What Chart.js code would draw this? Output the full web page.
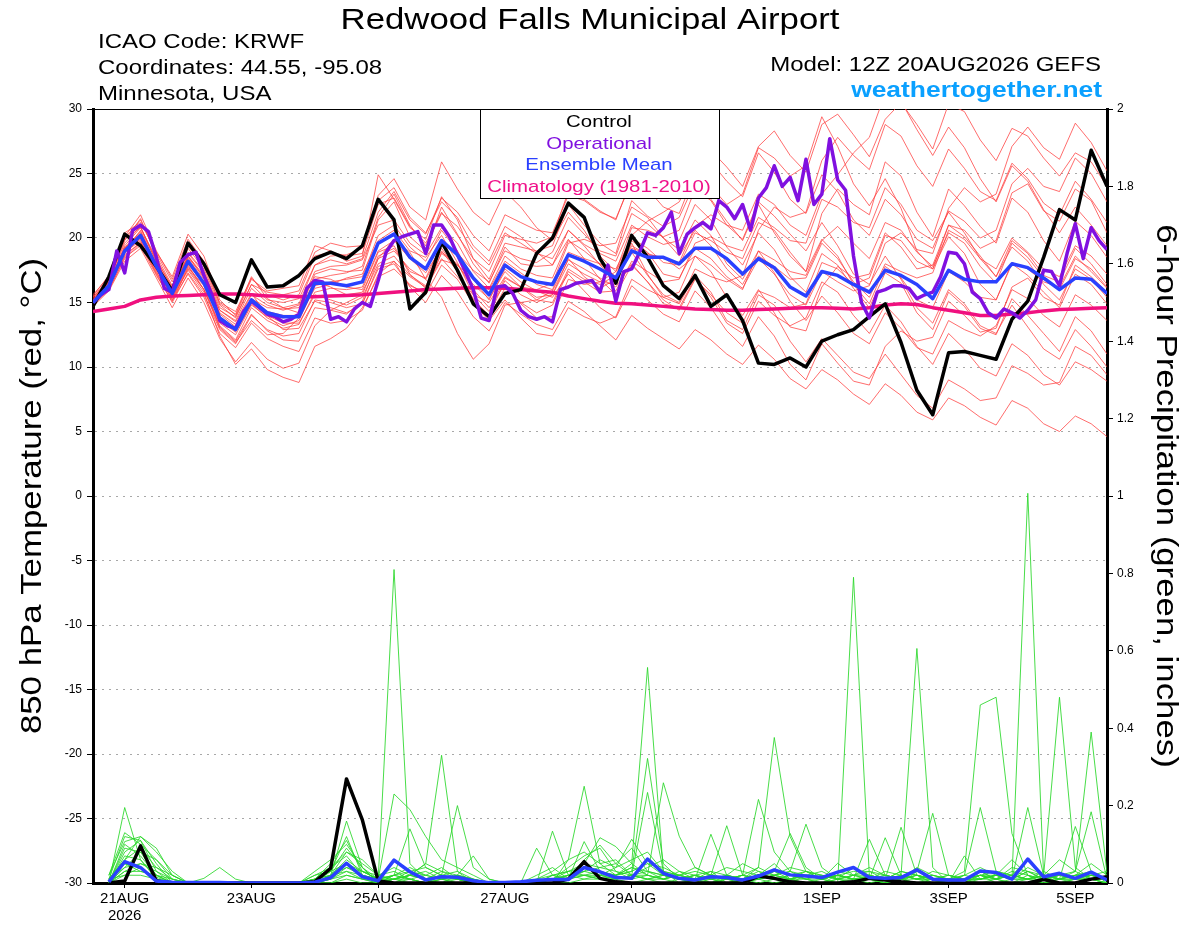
<!DOCTYPE html>
<html>
<head>
<meta charset="utf-8">
<title>Redwood Falls Municipal Airport - GEFS plume</title>
<script src="https://cdn.jsdelivr.net/npm/chart.js@4.4.1/dist/chart.umd.min.js"></script>
<style>
  html, body { margin: 0; padding: 0; background: #fff; }
  canvas { display: block; }
</style>
</head>
<body>
<canvas id="plume" width="1200" height="927" style="width:1200px;height:927px"></canvas>
<script>
const FONT = '"Liberation Sans", Arial, Helvetica, sans-serif';
const STRETCH = 1.2; // the original lettering is wider than Arial

// ---- text ----
const titleText = 'Redwood Falls Municipal Airport';
const infoLines = ['ICAO Code: KRWF', 'Coordinates: 44.55, -95.08', 'Minnesota, USA'];
const modelText = 'Model: 12Z 20AUG2026 GEFS';
const siteText = 'weathertogether.net';
const leftTitle = '850 hPa Temperature (red, \u00B0C)';
const rightTitle = '6-hour Precipitation (green, inches)';
const legendItems = [
  { text: 'Control', color: '#000000' },
  { text: 'Operational', color: '#8010e0' },
  { text: 'Ensemble Mean', color: '#2a40ff' },
  { text: 'Climatology (1981-2010)', color: '#f0108a' }
];

// ---- x axis: hours since 12Z 20AUG2026 ----
const tickHours = [12, 60, 108, 156, 204, 276, 324, 372];
const tickLabels = [['21AUG', '2026'], '23AUG', '25AUG', '27AUG', '29AUG', '1SEP', '3SEP', '5SEP'];

// ---- 850 hPa temperature, 6-hourly from hour 0 ----
const controlTemp = [14.7,
  17.0,20.3,19.4,17.8,15.9,19.6,18.0,15.6,
  15.0,18.3,16.2,16.3,17.1,18.4,18.9,18.4,
  19.4,23.0,21.4,14.5,15.8,19.7,17.5,14.9,
  13.9,15.7,16.0,18.8,20.0,22.7,21.6,18.4,
  16.5,20.2,18.5,16.3,15.3,17.1,14.7,15.6,
  13.6,10.3,10.2,10.7,10.0,12.0,12.5,12.9,
  13.9,14.9,11.9,8.2,6.3,11.1,11.2,10.9,
  10.6,13.7,15.1,18.5,22.2,21.4,26.8,24.0];

const meanTemp = [15.0,
  16.3,19.0,20.2,17.8,15.7,18.2,16.5,13.8,
  12.9,15.2,14.2,13.9,13.9,16.5,16.5,16.3,
  16.6,19.6,20.3,18.5,17.6,19.8,18.7,16.9,
  15.6,17.9,17.0,16.6,16.4,18.7,18.2,17.6,
  16.9,19.0,18.5,18.5,18.0,19.2,19.2,18.4,
  17.2,18.4,17.7,16.2,15.5,17.4,17.1,16.4,
  15.8,17.5,17.1,16.4,15.3,17.5,16.8,16.6,
  16.6,18.0,17.7,16.9,16.0,16.9,16.8,15.7];

const climoTemp = [14.3,
  14.5,14.7,15.2,15.4,15.5,15.55,15.6,15.65,
  15.65,15.6,15.5,15.5,15.45,15.45,15.5,15.55,
  15.6,15.7,15.8,15.9,16.0,16.05,16.1,16.15,
  16.15,16.1,16.0,15.9,15.8,15.5,15.3,15.1,
  14.95,14.9,14.8,14.7,14.6,14.5,14.45,14.4,
  14.4,14.45,14.5,14.55,14.6,14.6,14.55,14.5,
  14.6,14.8,14.9,14.85,14.6,14.4,14.2,14.0,
  14.0,14.1,14.2,14.35,14.45,14.5,14.55,14.6];

// operational run, 3-hourly from hour 0
const operationalTemp = [
  15.0,15.6,16.0,19.0,17.3,20.6,21.0,20.5,
  18.5,16.1,15.8,18.1,18.7,18.9,17.1,15.6,
  13.6,13.2,13.0,14.3,15.1,14.6,14.1,13.9,
  13.5,13.7,14.1,16.1,16.7,16.6,13.7,13.9,
  13.5,14.5,15.0,14.7,16.7,18.9,19.8,20.1,
  20.3,20.5,18.8,21.0,21.0,20.1,18.7,17.4,
  16.0,13.8,13.6,16.2,16.3,15.7,14.4,13.9,
  13.7,13.9,13.5,16.0,16.2,16.5,16.6,16.7,
  15.8,17.9,15.1,17.4,17.6,18.9,20.4,20.2,
  20.8,22.0,18.8,20.3,20.8,21.2,20.7,22.9,
  22.4,21.5,22.6,20.6,23.1,23.9,25.6,24.0,
  24.7,22.9,26.1,22.6,23.4,27.7,24.5,23.7,
  18.6,15.0,13.8,15.8,16.0,16.3,16.3,16.1,
  15.3,15.6,15.8,17.0,18.9,18.8,18.0,15.8,
  15.3,14.2,13.8,14.5,14.2,13.8,14.4,15.2,
  17.5,17.4,16.3,18.9,21.1,18.4,20.8,19.8,
  19.1];

// ensemble members, 6-hourly from hour 0
const memberTemps = [
  [15.3, 16.6,19.8,21.5,18.6, 16.3,19.2,17.6,14.8, 13.8,16.4,15.2,15.0, 15.3,17.9,18.3,18.0, 18.4,22.0,23.6,21.4, 20.3,23.1,22.0,20.2, 19.0,21.8,21.2,20.6, 20.4,23.3,22.9,22.0, 21.5,24.4,24.8,23.8, 23.0,25.6,26.8,25.5, 24.0,27.1,28.3,26.4, 25.1,28.8,29.6,28.0, 26.3,29.2,30.5,28.8, 26.9,30.4,29.8,27.6, 26.0,28.5,27.9,26.2, 24.8,26.6,25.9,24.0],
  [14.8, 16.0,18.4,19.6,17.2, 15.0,17.3,15.6,12.9, 11.8,14.0,12.9,12.4, 12.6,15.2,15.0,14.6, 14.9,17.8,18.2,16.2, 15.0,17.1,15.8,13.9, 12.8,15.0,14.1,13.3, 12.9,15.1,14.3,13.2, 12.1,14.0,13.0,12.2, 11.4,12.9,12.1,11.0, 10.2,11.7,10.6,9.1, 8.3,9.8,9.0,7.9, 7.1,8.7,7.8,6.5, 5.9,7.6,7.0,6.1, 5.5,7.4,6.8,5.6, 5.0,6.2,5.6,4.6],
  [15.1, 16.9,20.1,21.8,19.0, 16.8,19.9,18.2,14.9, 14.1,17.0,15.3,14.6, 14.2,17.2,17.6,17.4, 17.5,21.4,22.8,20.1, 19.0,22.4,20.3,18.0, 16.5,19.3,18.0,17.8, 17.9,20.6,19.5,18.8, 18.2,21.0,20.1,19.5, 19.8,22.6,21.4,19.3, 17.9,20.4,19.1,17.0, 15.8,18.8,17.9,16.1, 14.6,17.3,16.5,14.2, 12.9,15.8,14.7,13.0, 12.5,15.3,14.0,12.6, 11.2,13.9,12.8,11.0],
  [15.5, 17.1,20.4,21.2,18.9, 17.0,20.3,18.6,15.2, 14.0,16.8,15.9,16.1, 16.3,19.4,19.0,18.2, 18.6,24.9,23.0,20.8, 19.9,23.2,21.4,18.4, 16.8,19.6,19.3,19.0, 19.4,22.6,21.0,19.6, 18.8,22.9,21.7,20.9, 21.6,24.3,23.0,21.3, 19.8,22.6,20.4,18.6, 17.4,21.9,23.8,22.6, 21.8,25.9,24.8,22.0, 20.1,23.8,22.5,20.9, 19.6,23.1,22.0,19.8, 18.2,21.3,20.2,18.5],
  [14.9, 16.2,18.6,19.7,17.5, 15.5,17.9,16.0,13.2, 12.1,14.6,13.6,13.0, 13.3,15.8,16.1,16.0, 16.2,19.0,19.8,18.4, 17.3,19.2,17.5,15.2, 14.0,16.7,15.6,15.0, 15.6,18.4,17.0,16.1, 16.8,19.6,17.2,15.4, 14.9,17.1,15.8,13.6, 12.9,15.6,14.8,13.1, 12.8,16.2,17.8,16.9, 17.2,20.4,19.3,17.6, 17.9,21.0,20.6,19.2, 19.8,23.5,24.2,22.1, 21.3,23.8,22.9,20.4],
  [15.0, 16.4,19.2,20.5,17.9, 15.9,18.6,16.9,14.2, 13.3,15.6,14.8,14.4, 14.8,17.0,16.8,16.2, 16.0,18.9,19.4,17.2, 16.1,18.3,17.9,16.4, 15.3,17.4,16.2,15.2, 15.0,17.6,16.8,16.4, 17.1,20.2,21.3,22.0, 22.8,25.1,24.0,22.6, 23.4,27.0,26.2,24.8, 25.6,29.4,27.1,24.2, 22.5,24.6,22.3,19.0, 17.6,20.1,18.8,16.4, 15.2,18.0,17.1,15.8, 14.6,17.2,16.4,14.9],
  [15.2, 16.5,19.4,20.8,18.3, 16.2,18.4,16.8,13.6, 12.7,14.9,13.8,13.2, 13.6,16.3,16.6,16.8, 17.0,20.2,21.0,19.3, 18.2,20.6,19.0,16.8, 15.2,17.6,16.6,15.9, 15.4,17.2,15.9,14.6, 13.8,16.3,15.2,14.1, 13.5,15.9,14.6,12.8, 11.6,13.9,12.4,10.2, 9.0,11.8,10.3,8.9, 8.6,11.6,12.8,12.0, 12.3,15.1,14.0,12.7, 13.0,16.2,16.9,15.4, 14.8,17.9,17.0,15.8],
  [14.7, 15.9,18.2,19.2,16.9, 14.6,16.9,15.0,12.2, 10.4,11.9,10.6,9.9, 10.3,13.2,14.4,15.0, 15.6,18.6,19.2,17.4, 16.9,19.5,18.8,17.5, 16.6,19.0,18.4,18.1, 18.9,21.6,20.3,19.0, 18.6,21.9,21.1,20.0, 19.1,21.4,20.2,18.0, 16.8,19.0,17.3,15.1, 13.6,15.5,14.2,12.6, 11.8,14.2,13.0,11.5, 11.0,13.6,12.9,12.4, 13.2,16.0,15.3,14.0, 13.1,15.6,14.8,13.6],
  [15.4, 16.7,19.6,20.9,18.1, 15.8,18.8,17.3,14.4, 13.5,15.7,14.0,12.9, 13.0,15.1,14.6,14.2, 14.9,17.6,18.0,16.3, 15.8,18.9,18.0,16.0, 14.6,16.4,14.9,13.8, 13.9,16.8,16.4,16.6, 17.4,20.8,20.6,20.1, 20.6,23.8,22.9,21.0, 19.9,22.8,21.7,20.3, 19.0,21.2,19.4,17.2, 16.4,18.6,16.8,14.6, 13.4,16.0,14.9,13.2, 12.6,14.8,13.1,11.4, 10.6,12.9,11.6,10.0],
  [15.1, 16.3,18.8,20.0,17.6, 15.4,17.6,16.0,13.4, 12.5,14.8,13.9,13.8, 14.1,16.8,17.1,17.3, 17.8,21.6,23.4,21.0, 19.4,21.9,20.9,19.1, 17.9,20.4,19.6,18.8, 18.4,20.6,19.4,17.9, 16.8,18.9,17.1,15.6, 15.0,17.6,17.0,16.6, 17.1,20.6,22.4,21.6, 22.0,26.0,27.8,26.4, 25.3,28.8,27.9,25.6, 24.0,26.9,25.4,23.6, 22.9,25.8,24.6,22.7, 21.8,24.4,23.0,21.2],
  [14.9, 16.1,18.9,19.8,17.4, 15.2,17.2,15.4,12.6, 11.5,13.4,12.2,11.6, 11.2,13.8,13.4,13.6, 14.4,17.2,18.2,17.0, 16.2,18.8,17.9,16.8, 16.0,18.2,17.3,16.4, 16.0,18.9,18.4,18.0, 17.6,20.0,19.2,18.1, 17.9,20.4,19.8,18.9, 18.4,21.2,20.6,18.9, 17.4,19.9,18.6,16.4, 14.9,17.8,16.9,15.2, 14.6,17.4,16.6,15.4, 15.2,18.1,17.6,16.6, 16.2,18.6,17.4,16.1],
  [15.3, 16.6,19.2,20.4,18.0, 15.9,18.0,16.4,13.9, 12.9,15.3,14.6,14.5, 14.6,17.4,17.8,17.9, 18.3,21.0,21.4,19.6, 18.7,20.8,19.6,17.4, 16.1,18.6,17.6,17.1, 16.9,19.8,19.0,18.0, 17.0,19.4,18.7,18.5, 17.6,18.6,17.4,15.4, 14.0,16.0,14.2,12.0, 10.4,12.2,10.9,9.6, 9.1,11.0,9.4,7.8, 6.8,9.0,8.3,7.4, 7.6,10.1,9.5,8.6, 8.8,11.6,10.9,9.4],
  [15.0, 16.3,19.0,20.6,18.2, 16.0,18.5,17.0,14.4, 13.6,16.1,15.0,14.6, 14.9,17.9,18.6,18.7, 19.2,23.3,24.6,22.4, 21.4,25.9,23.8,22.0, 21.0,23.6,22.4,20.8, 19.8,22.0,20.6,18.6, 17.4,19.8,18.9,17.2, 16.9,19.2,18.4,17.0, 16.1,18.4,17.2,15.6, 14.8,17.4,16.6,15.9, 16.3,19.6,20.4,19.1, 18.8,22.3,23.9,22.8, 23.4,27.1,28.6,27.0, 26.1,28.9,27.4,25.2],
  [14.8, 16.0,18.5,19.4,17.1, 15.1,17.7,16.3,13.1, 12.0,14.1,12.8,12.1, 12.0,14.6,14.4,14.1, 15.1,18.4,19.9,18.9, 16.8,15.4,12.6,10.6, 11.8,14.8,15.0,15.2, 15.9,18.3,17.6,16.9, 16.2,18.0,16.6,14.9, 14.6,16.9,15.4,13.4, 12.6,15.1,14.0,13.2, 13.8,16.6,15.8,14.0, 12.6,14.8,13.5,11.6, 10.2,12.6,11.4,9.9, 9.3,11.8,10.9,9.4, 8.6,10.4,9.8,8.9],
  [15.6, 17.0,20.0,21.4,18.8, 16.6,19.4,17.8,15.0, 14.3,16.9,15.6,15.2, 15.6,18.6,18.9,18.6, 18.8,22.6,23.1,20.9, 19.6,22.0,20.2,18.4, 17.4,20.2,19.9,19.6, 20.1,23.6,23.0,22.1, 21.4,24.6,23.8,22.4, 21.9,25.0,25.9,24.4, 23.2,26.6,25.1,23.0, 21.9,24.9,23.6,21.4, 20.2,23.0,21.8,19.9, 19.2,22.1,21.3,20.0, 20.6,24.2,25.4,24.0, 23.6,26.2,25.0,22.8],
  [15.1, 16.4,19.1,20.0,17.7, 15.6,18.1,16.6,13.8, 12.8,15.0,14.3,14.0, 14.0,16.6,16.2,15.6, 15.8,18.4,19.0,17.6, 16.8,19.0,17.4,15.3, 13.9,16.1,15.0,14.2, 14.8,17.4,16.6,15.8, 15.9,18.2,17.4,16.6, 16.8,19.6,20.1,19.4, 19.0,21.6,20.8,19.8, 19.6,23.0,22.4,21.2, 20.8,23.9,22.6,20.6, 19.8,22.0,20.4,18.4, 17.6,20.0,18.9,17.6, 17.0,19.4,18.6,17.2],
  [15.2, 16.6,19.0,19.9,17.6, 15.4,17.8,16.0,13.0, 11.9,13.6,12.5,12.6, 13.8,16.1,16.4,16.9, 17.2,19.8,20.6,19.0, 18.5,20.2,18.1,15.6, 14.3,16.9,16.2,16.0, 16.5,19.6,19.9,19.4, 19.6,22.4,21.6,20.0, 18.6,20.6,19.4,17.6, 16.4,18.6,17.8,16.8, 16.9,19.6,18.4,16.6, 15.4,18.0,17.4,16.9, 17.3,20.6,19.9,18.4, 17.0,19.3,18.2,16.4, 15.2,17.6,16.8,15.4],
  [14.9, 16.2,18.7,19.6,17.3, 15.3,17.5,15.8,12.4, 10.2,11.4,9.8,9.2, 8.8,11.6,12.2,13.0, 14.6,17.0,17.6,16.4, 15.6,17.9,16.8,14.9, 13.6,15.2,13.8,12.6, 12.4,14.6,13.9,13.4, 13.9,16.8,16.0,15.4, 15.8,18.6,17.9,16.8, 16.0,19.0,18.3,17.4, 17.1,19.8,20.9,19.6, 18.4,21.2,20.6,18.9, 17.8,20.4,19.6,17.8, 16.5,19.6,18.5,16.9, 16.0,18.4,17.6,16.2],
  [15.0, 16.5,19.3,20.3,18.0, 15.9,18.6,17.1,14.1, 13.1,15.2,14.0,13.4, 13.4,15.6,15.2,14.8, 15.4,18.0,18.6,17.1, 16.3,18.4,17.0,15.6, 15.0,17.0,16.2,15.4, 15.6,18.0,17.2,16.6, 16.4,19.2,18.8,18.4, 18.1,20.9,21.8,21.0, 20.6,23.4,22.6,21.0, 20.2,23.4,24.9,26.6, 27.8,31.2,30.6,28.4, 26.4,28.6,27.0,24.6, 22.8,25.6,24.4,22.2, 20.4,22.4,21.0,19.4],
  [15.4, 16.9,19.9,20.8,18.4, 16.1,18.9,17.4,14.6, 13.9,16.4,15.8,15.6, 15.9,18.9,19.6,19.3, 19.4,22.9,23.9,21.6, 20.4,22.8,21.6,19.4, 18.2,20.9,20.1,18.9, 17.9,19.9,18.4,16.8, 15.6,17.9,16.6,15.2, 14.4,16.8,15.6,14.2, 13.4,15.9,15.4,14.6, 14.9,18.1,17.6,16.4, 16.9,20.2,19.8,18.2, 17.6,21.0,20.1,18.6, 17.0,19.8,18.8,17.1, 16.6,19.2,18.0,16.4]
];

// ---- 6-hour precipitation (inches), 6-hourly from hour 6 ----
const controlPrecip = [
  0,.005,.096,.005,0,0,0,0,
  0,0,0,0,0,.003,.038,.269,
  .163,.005,0,0,0,0,0,0,
  0,0,0,0,0,.01,.055,.012,
  .003,0,0,0,0,0,0,0,
  0,.018,.012,.003,0,0,0,.003,
  .012,.008,.003,0,0,0,0,0,
  0,0,0,.009,0,0,.01,.016];

const meanPrecip = [
  .003,.055,.040,.005,.002,.001,.001,.001,
  0,0,0,0,0,.002,.014,.051,
  .016,.006,.059,.029,.008,.016,.015,.006,
  .001,.001,.003,.007,.009,.009,.040,.029,
  .014,.012,.062,.025,.012,.008,.016,.014,
  .008,.018,.034,.021,.018,.014,.028,.040,
  .014,.012,.014,.034,.010,.008,.008,.031,
  .027,.010,.062,.016,.025,.012,.028,.008];

const memberPrecips = [
  [0,.195,.06,.01,0,0,0,0, 0,0,0,0,0,0,.02,.16, .04,0,0,.02,.05,.33,.03,0, 0,0,0,0,.01,.03,.02,.01, .02,.05,.557,.03,0,0,.01,0, 0,.02,.05,.01,0,0,.01,.02, .01,0,.02,.606,.04,0,0,.03, .01,0,.02,0,0,.01,.03,0],
  [.01,.12,.11,.03,0,0,0,0, 0,0,0,0,0,0,.03,.12, .02,.01,.81,.05,.01,0,.02,0, 0,0,0,.09,.02,.01,.107,.03, .01,.02,.02,.01,.03,.01,0,.02, .05,.03,.01,0,.02,.01,0,.79, .02,0,.01,0,0,0,.01,.02, 0,.01,.03,.01,0,0,.02,.01],
  [.02,.107,.12,.09,.02,0,0,0, 0,0,0,0,0,.01,.05,.11, .03,.01,.23,.19,.12,.06,.04,.02, 0,0,0,0,.134,.02,.01,.02, .04,.113,.05,.02,.01,0,.02,.01, .02,.216,.08,.03,.01,0,.02,.01, 0,.01,.03,.02,0,.01,.03,.46, .48,.128,.02,.01,.02,.01,.01,0],
  [0,.09,.08,.02,0,0,.012,.04, .01,0,0,0,0,.03,.06,.10, .04,0,.02,.14,.04,.02,.20,.04, .01,0,0,0,0,.06,.25,.05, .02,.03,.322,.05,.01,.02,.03,0, .01,.04,.376,.12,.03,.01,.02,.03, .03,.01,.01,.02,.01,0,0,.02, .02,.01,1.007,.02,0,.01,.01,.01],
  [0,.07,.06,.015,0,0,0,0, 0,0,0,0,0,0,.01,.05, .03,.02,.03,.01,0,.01,.02,.07, .01,0,0,.01,.02,.03,.05,.117, .094,.05,.02,.259,.121,.04,.02,.01, 0,.01,.02,.03,.152,.04,.01,0, .02,.01,0,.03,.18,.02,.01,.01, .02,.06,.02,0,.01,.03,.39,.025],
  [.01,.06,.09,.04,.01,0,0,0, 0,0,0,0,0,.01,.02,.08, .06,.02,.04,.02,.01,.03,.01,0, 0,0,0,.02,.04,.01,.06,.098, .05,.02,.234,.03,.02,.01,.126,.02, .01,.02,.03,.128,.04,.01,.02,.01, .113,.02,.01,.02,.01,0,.07,.01, .02,.01,.195,.02,.01,.146,.03,.01],
  [0,.05,.04,.01,0,0,0,0, 0,0,0,0,0,0,.02,.06, .03,.01,.02,.03,.02,.04,.01,0, 0,0,0,0,.01,.02,.03,.02, .01,.02,.03,.01,.02,.04,.02,.148, .02,.01,.02,.03,.02,.01,.051,.02, .01,.117,.02,.01,0,.01,.02,.195, .03,.02,.01,.02,.48,.04,.01,0],
  [.01,.04,.05,.03,.01,0,0,0, 0,0,0,0,0,.02,.04,.07, .02,0,.01,.02,.01,.02,.03,.01, 0,0,0,0,.02,.01,.04,.03, .02,.04,.03,.02,.01,.02,.01,.02, .01,.03,.02,.01,.02,.03,.01,.04, .02,.01,.144,.02,.01,0,.01,.02, .01,.02,.06,.01,.02,.03,.184,.01],
  [.02,.13,.10,.06,.01,0,0,0, 0,0,0,0,0,.01,.03,.09, .04,.01,0,.01,.02,.01,0,0, 0,0,0,0,.01,.02,.05,.04, .03,.01,.02,.01,0,.01,.02,.01, .01,0,.01,.02,.01,.02,.01,0, .01,.02,.01,.03,.01,.01,0,.01, .02,.01,.03,.01,.01,.02,.02,.01],
  [0,.08,.11,.05,0,0,0,0, 0,0,0,0,0,0,.02,.04, .02,.01,.02,.01,0,.02,.01,0, 0,0,0,.01,.03,.06,.08,.05, .06,.02,.01,.02,.01,.02,0,.01, .02,.01,.03,.02,.01,.01,.02,.01, .01,0,.02,.01,.02,.01,.01,.03, .01,.03,.02,.01,.02,.01,.01,0],
  [0,.10,.07,.02,0,0,0,0, 0,0,0,0,0,0,.01,.03, .01,0,.02,.04,.02,.01,.02,.01, 0,0,0,0,0,.02,.03,.06, .04,.06,.08,.03,.02,.01,.02,.04, .03,.02,.01,.01,.03,.02,.01,.02, .04,.02,.01,.01,.01,.02,.01,.02, .03,.02,.01,.02,.01,.02,.02,.01],
  [.01,.06,.12,.08,.03,0,0,0, 0,0,0,0,0,.01,.04,.08, .05,.02,.01,.03,.04,.02,.01,0, 0,0,0,0,.01,.04,.07,.09, .03,.02,.04,.06,.03,.02,.01,.01, .02,.04,.02,.01,.02,.01,.02,.01, .02,.01,.03,.02,.01,0,.02,.01, .01,.04,.03,.02,.06,.03,.01,.01],
  [0,.03,.05,.04,.02,0,0,0, 0,0,0,0,0,0,0,.02, .01,0,.01,.01,0,.01,.01,0, 0,0,0,0,0,.01,.02,.01, .01,.02,.01,.01,.02,.01,.01,0, .01,.01,.02,.01,.01,0,.01,.01, .01,.02,.01,.02,.01,.01,.01,.01, .02,.01,.01,.02,.01,.01,.02,.01],
  [.01,.05,.03,.02,0,0,0,0, 0,0,0,0,0,.02,.03,.05, .02,.01,.01,.02,.05,.03,.02,.01, 0,0,0,0,.02,.03,.04,.02, .02,.03,.05,.04,.02,.01,.03,.02, .01,.02,.01,.02,.03,.02,.01,.02, .03,.02,.01,.04,.02,.01,.02,.04, .02,.01,.04,.02,.01,.02,.05,.02],
  [0,.04,.08,.06,.02,0,0,0, 0,0,0,0,0,.01,.02,.03, .02,0,.01,.02,.01,.02,.01,0, 0,0,0,0,0,.01,.03,.04, .05,.09,.03,.02,.01,.02,.01,.02, .01,.02,.03,.01,.02,.01,.03,.02, .02,.01,.02,.01,.02,.01,.01,.02, .01,.02,.01,.01,.02,.01,.02,.03],
  [.01,.02,.04,.01,0,0,0,0, 0,0,0,0,0,0,.01,.04, .03,.01,.01,.02,.03,.01,.02,.01, 0,0,0,0,.01,.02,.02,.03, .02,.04,.02,.01,.02,.03,.02,.01, .02,.01,.02,.04,.03,.01,.02,.01, .01,.03,.02,.01,.03,.02,.01,.02, .01,.02,.01,.03,.01,.02,.03,.01],
  [0,.02,.02,.01,0,0,0,0, 0,0,0,0,0,0,0,.01, 0,0,.01,0,0,.01,0,0, 0,0,0,0,0,0,.01,.01, .01,0,.01,0,.01,0,0,.01, 0,.01,0,.01,0,.01,0,.01, .01,0,.01,0,.01,0,.01,0, .01,0,.01,0,.01,0,.01,0],
  [0,.03,.03,.02,.01,0,0,0, 0,0,0,0,0,0,.01,.02, .01,.01,.02,.01,0,0,.01,0, 0,0,0,0,.01,.01,.02,.02, .01,.02,.01,.02,.01,.01,.02,.01, .01,.02,.01,.01,.02,.01,.02,.01, .01,.01,.02,.01,.01,.02,.01,.01, .02,.01,.01,.02,.01,.01,.02,.01]
];

// ---- helpers ----
const toPoints = (values, startHour, stepHours) =>
  values.map((v, k) => ({ x: startHour + k * stepHours, y: v }));

const thinLine = (values, color, axis, start) => ({
  data: toPoints(values, start, 6),
  yAxisID: axis,
  borderColor: color,
  borderWidth: 1
});

const datasets = [
  { data: toPoints(meanTemp, 0, 6), yAxisID: 'yT', borderColor: '#2a40ff', borderWidth: 3.5 },
  { data: toPoints(meanPrecip, 6, 6), yAxisID: 'yP', borderColor: '#2a40ff', borderWidth: 3.5 },
  { data: toPoints(operationalTemp, 0, 3), yAxisID: 'yT', borderColor: '#8010e0', borderWidth: 3.5 },
  { data: toPoints(controlTemp, 0, 6), yAxisID: 'yT', borderColor: '#000000', borderWidth: 3.5 },
  { data: toPoints(controlPrecip, 6, 6), yAxisID: 'yP', borderColor: '#000000', borderWidth: 3.5 },
  { data: toPoints(climoTemp, 0, 6), yAxisID: 'yT', borderColor: '#f0107f', borderWidth: 3.5 }
];
memberTemps.forEach(m => datasets.push(thinLine(m, 'rgba(255,60,60,0.75)', 'yT', 0)));
memberPrecips.forEach(m => datasets.push(thinLine(m, 'rgba(40,215,40,0.85)', 'yP', 6)));

// text drawn wider than the font, about its anchor point
function wideText(ctx, text, x, y, align, angle) {
  ctx.save();
  ctx.translate(x, y);
  if (angle) ctx.rotate(angle);
  ctx.scale(STRETCH, 1);
  ctx.textAlign = align;
  ctx.fillText(text, 0, 0);
  ctx.restore();
}

const decorPlugin = {
  id: 'decor',
  afterDraw(chart) {
    const ctx = chart.ctx;
    const area = chart.chartArea;
    ctx.save();
    ctx.fillStyle = '#000';
    ctx.textBaseline = 'alphabetic';

    ctx.font = '29px ' + FONT;
    wideText(ctx, titleText, 590, 29, 'center');

    ctx.font = '20px ' + FONT;
    infoLines.forEach((t, k) => wideText(ctx, t, 98, 48 + k * 26, 'left'));
    wideText(ctx, modelText, 1101, 71, 'right');

    ctx.font = 'bold 22px ' + FONT;
    ctx.fillStyle = '#0aa0ff';
    wideText(ctx, siteText, 1102, 97, 'right');

    // legend box
    ctx.fillStyle = '#fff';
    ctx.fillRect(480, area.top, 239, 90);
    ctx.strokeStyle = '#000';
    ctx.lineWidth = 1;
    ctx.strokeRect(480.5, area.top + 0.5, 239, 89);
    ctx.font = '17px ' + FONT;
    legendItems.forEach((it, k) => {
      ctx.fillStyle = it.color;
      wideText(ctx, it.text, 599, 127 + k * 21.5, 'center');
    });

    // axis titles
    ctx.fillStyle = '#000';
    ctx.font = '29px ' + FONT;
    ctx.textBaseline = 'middle';
    wideText(ctx, leftTitle, 33, 496, 'center', -Math.PI / 2);
    wideText(ctx, rightTitle, 1165, 496, 'center', Math.PI / 2);
    ctx.restore();
  }
};

new Chart(document.getElementById('plume'), {
  type: 'line',
  data: { datasets },
  options: {
    responsive: false,
    animation: false,
    devicePixelRatio: 1,
    layout: { padding: { top: 109, left: 0, right: 0, bottom: 0 } },
    elements: {
      point: { radius: 0, hoverRadius: 0 },
      line: { tension: 0, fill: false, borderJoinStyle: 'round' }
    },
    plugins: { legend: { display: false }, tooltip: { enabled: false } },
    events: [],
    scales: {
      x: {
        type: 'linear',
        min: 0,
        max: 384,
        afterBuildTicks: s => { s.ticks = tickHours.map(v => ({ value: v })); },
        afterFit: s => { s.height = 44; },
        ticks: {
          autoSkip: false,
          maxRotation: 0,
          color: '#000',
          padding: 3,
          font: { family: FONT, size: 15, lineHeight: 1.1 },
          callback: (v, i) => tickLabels[i]
        },
        grid: { drawOnChartArea: false, drawTicks: true, tickLength: 5, tickColor: '#000', tickWidth: 1 },
        border: { display: true, color: '#000', width: 3 }
      },
      yT: {
        type: 'linear',
        position: 'left',
        min: -30,
        max: 30,
        afterFit: s => { s.width = 93; },
        ticks: { stepSize: 5, color: '#000', padding: 5, font: { family: FONT, size: 12 } },
        grid: {
          color: c => (c.tick && c.tick.value === 30) ? '#000' :
                      (c.tick && c.tick.value === -30) ? 'rgba(0,0,0,0)' : '#a8a8a8',
          lineWidth: 1,
          drawTicks: true,
          tickLength: 6,
          tickColor: '#000',
          tickWidth: 1
        },
        border: {
          display: true, color: '#000', width: 3,
          dash: c => (c.tick && c.tick.value === 30) ? [] : [2, 5]
        }
      },
      yP: {
        type: 'linear',
        position: 'right',
        min: 0,
        max: 2,
        afterFit: s => { s.width = 93; },
        ticks: {
          stepSize: 0.2, color: '#000', padding: 4, font: { family: FONT, size: 12 },
          callback: v => String(Math.round(v * 10) / 10)
        },
        grid: { drawOnChartArea: false, drawTicks: true, tickLength: 6, tickColor: '#000', tickWidth: 1 },
        border: { display: true, color: '#000', width: 3 }
      }
    }
  },
  plugins: [decorPlugin]
});
</script>
</body>
</html>
